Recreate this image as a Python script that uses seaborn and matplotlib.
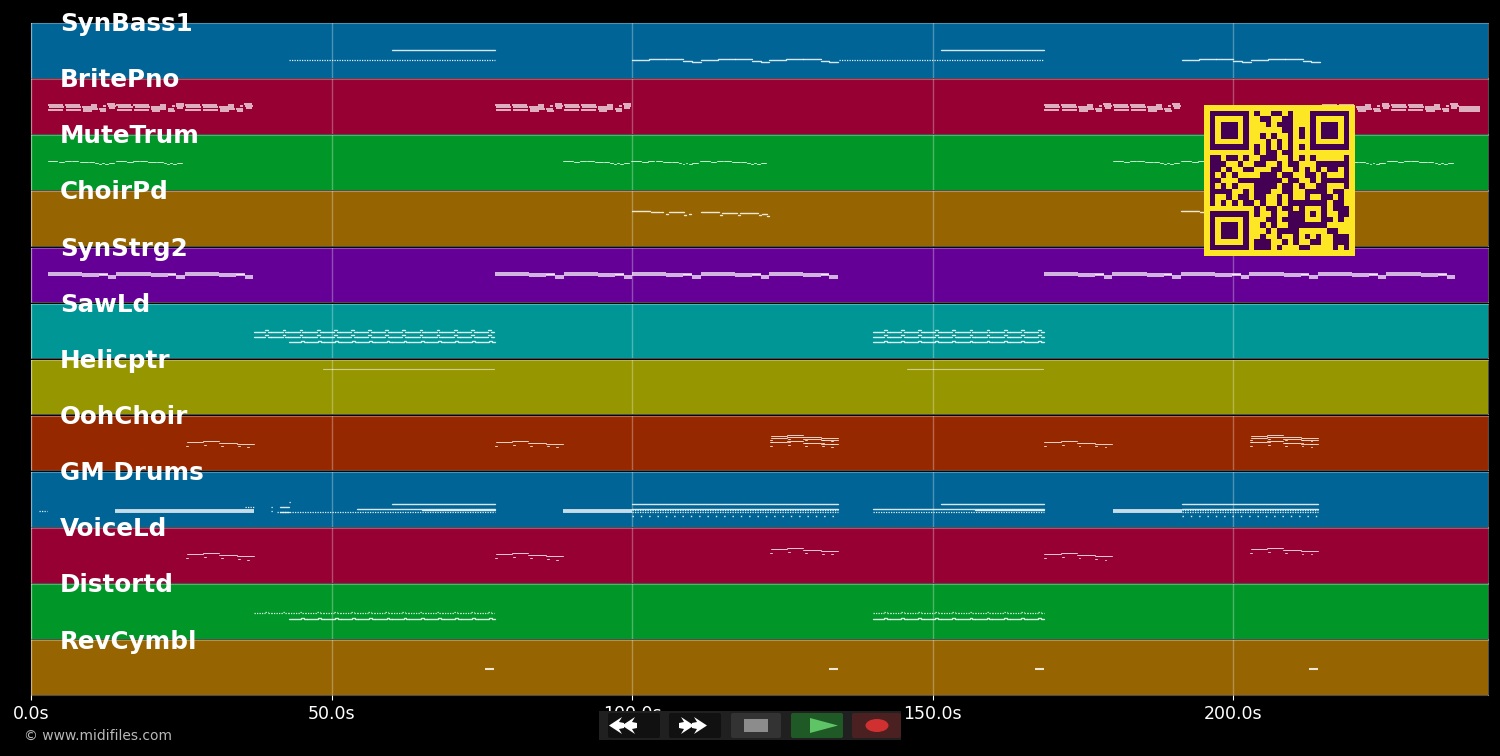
# Piano roll of a midi file, one band per instrument
import numpy as np
import pandas as pd
import seaborn as sns
import matplotlib.pyplot as plt
from matplotlib.patches import Rectangle, Polygon, Ellipse, FancyBboxPatch

track_names = ['SynBass1', 'BritePno', 'MuteTrum', 'ChoirPd', 'SynStrg2', 'SawLd',
               'Helicptr', 'OohChoir', 'GM Drums', 'VoiceLd', 'Distortd', 'RevCymbl']
band_colors = ['#006496', '#960032', '#009628', '#966400', '#640096', '#009696',
               '#969600', '#962800', '#006496', '#960032', '#009628', '#966400']
tick_seconds = [0, 50, 100, 150, 200]
song_end = 242.4

# phrases: (offset, duration, pitch) inside one phrase
bass_wave = [(0, 2.85, 40), (2.85, 2.85, 44), (5.7, 2.85, 42), (8.55, 1.45, 38), (10, 1.4, 36)]
brite_bar = [(0, 2.5, 66), (0.2, 2.5, 61), (0.1, 2.5, 56), (2.85, 2.5, 66), (3.05, 2.5, 61), (2.95, 2.5, 56),
             (5.7, 2.5, 63), (5.8, 2.5, 58), (5.9, 1.4, 53), (7.2, 1.0, 66),
             (8.55, 1.1, 58), (8.65, 1.1, 53), (9.2, 0.5, 64), (9.9, 1.3, 70), (10, 1.3, 65), (10.1, 1.0, 59)]
mute_line = [(0, 1.6, 66), (1.8, 0.9, 64), (2.8, 1.0, 67), (4, 1.1, 66), (5.3, 1.3, 65), (6.8, 0.9, 64),
             (7.9, 0.4, 62), (8.5, 0.3, 60), (9, 0.3, 63), (9.5, 0.5, 60), (10.1, 0.9, 63)]
choir_line = [(0, 3, 81), (3.1, 1.6, 80), (4.8, 0.4, 78), (5.7, 0.3, 74), (6.2, 2.5, 78), (8.7, 0.3, 72),
              (9.5, 0.3, 74), (11.4, 3, 78), (14.6, 0.3, 73), (14.9, 2.6, 77), (17.7, 0.3, 71), (18, 3, 76),
              (21.2, 0.3, 72), (21.6, 0.9, 74), (22.5, 0.3, 70)]
strings_bar = [(0, 5.7, 67), (0, 5.7, 63), (5.7, 2.85, 65), (5.7, 2.85, 61),
               (8.55, 1.45, 66), (8.55, 1.45, 62), (10, 1.4, 61), (10, 1.4, 57)]
saw_bar = [(0, 1.9, 0), (1.9, 0.45, 3), (2.35, 0.5, 0), (2.85, 1.9, 0), (4.75, 0.45, 3), (5.2, 0.5, 0)]
ooh_line = [(0, 0.3, 58), (0.1, 2.7, 67), (2.8, 2.7, 69), (3.0, 0.3, 59), (5.5, 3, 65), (5.8, 0.3, 57),
            (8.5, 2.8, 62), (8.6, 0.3, 56), (10.1, 0.3, 54)]

# phrase start times, seconds
bass_starts = [100, 111.4, 122.8, 191.5, 203]
brite_starts = [2.8, 14.2, 25.6, 77.2, 88.6, 168.5, 180, 214.8, 226.2]
mute_starts = [2.8, 14.2, 88.5, 99.9, 111.3, 180, 191.4, 202.8, 214.2, 225.6]
choir_starts = [100, 191.4]
strings_starts = [2.8, 14.2, 25.6, 77.2, 88.6, 100, 111.4, 122.8, 168.5, 179.9, 191.3, 202.7, 214.1, 225.5]
saw_starts_a = [37.1, 42.8, 48.5, 54.2, 59.9, 65.6, 71.3, 140, 145.7, 151.4, 157.1, 162.8]
saw_starts_b = [43, 48.7, 54.4, 60.1, 65.8, 71.5, 140, 145.7, 151.4, 157.1, 162.8]
ooh_starts = [25.8, 77.2, 168.5]
ooh_high_starts = [123, 202.8]

# held notes and runs: (start, end, pitch)
bass_held = [(60, 77.2, 63), (151.4, 168.6, 63)]
bass_runs = [(43, 77.2, 40), (134.4, 168.6, 40)]
brite_held = [(237.6, 241, 62), (237.6, 241, 57), (237.6, 241, 52)]
heli_held = [(48.6, 77, 105), (145.8, 168.4, 105)]
cymbal_held = [(75.5, 77, 60), (132.7, 134.3, 60), (167, 168.5, 60), (212.7, 214.1, 60)]
drum_held = [(60, 77.2, 52), (100, 134.3, 52), (151.4, 168.6, 52), (191.5, 214.1, 52),
             (41.4, 43, 46), (41.4, 43, 35), (54.2, 77.2, 42), (65, 77.2, 38),
             (100, 134.3, 42), (140, 168.6, 42), (157, 168.6, 38), (191.5, 214.1, 42)]
drum_thick = [(14, 37.1, 37), (88.5, 100, 37), (180, 191.5, 37)]
drum_runs = [(41, 77.2, 35), (100, 134.3, 35), (140, 168.6, 35), (191.5, 214.1, 35),
             (100, 134.3, 38), (191.5, 214.1, 38),
             (1.3, 2.7, 37), (35.6, 37.1, 46), (40, 40.3, 46), (40, 40.3, 36), (43, 43.3, 58)]
drum_sparse = [(100, 134.3, 25), (191.5, 214.1, 25)]

qr_rows = [
    '1111111010011010001111111', '1000001001100110001000001', '1011101000101110001011101',
    '1011101000000110101011101', '1011101001010010101011101', '1000001000101010001000001',
    '1111111010101010101111111', '0000000010110110000000000', '1101101001110010101000001',
    '1110010011001011000111111', '1101001100011001010101101', '1010100001110110011010001',
    '1100011111111011001011111', '1010100011110110100110001', '1111001011100110011110110',
    '1001011011001010010011010', '1010101101001011111110110', '0000000010110110100010111',
    '1111111010010011101010011', '1000001000110111100011010', '1011101001010011111110000',
    '1011101000101111000001100', '1011101001001001010100111', '1000001011100101001100111',
    '1111111011101000110000101',
]

sns.set_theme(style='dark', rc={'figure.facecolor': 'black', 'axes.facecolor': 'black',
                                'savefig.facecolor': 'black', 'text.color': 'white',
                                'xtick.color': 'white', 'font.family': 'DejaVu Sans'})

# line look for each kind of note
kinds = {'thin': dict(linewidth=0.7, alpha=0.8),
         'solid': dict(linewidth=1.0, alpha=0.85),
         'chord': dict(linewidth=1.1, alpha=0.9, solid_capstyle='butt'),
         'pad': dict(linewidth=1.2, alpha=0.85, solid_capstyle='butt'),
         'thick': dict(linewidth=1.5, alpha=0.85, solid_capstyle='butt'),
         'block': dict(linewidth=2.8, alpha=0.78, solid_capstyle='butt'),
         'dots': dict(linewidth=0.9, alpha=0.9, linestyle=(0, (1, 1))),
         'sparse': dict(linewidth=1.0, alpha=0.9, linestyle=(0, (1, 5))),
         'pale': dict(linewidth=0.8, alpha=0.55)}

rows = []


def add_spans(track, kind, spans):
    for start, end, pitch in spans:
        note = len(rows)
        rows.append((track, kind, note, start, pitch))
        rows.append((track, kind, note, end, pitch))


def add_phrases(track, kind, phrase, starts, shift=0):
    add_spans(track, kind, [(s + off, s + off + dur, pitch + shift)
                            for s in starts for off, dur, pitch in phrase])


add_spans(0, 'solid', bass_held)
add_spans(0, 'dots', bass_runs)
add_phrases(0, 'solid', bass_wave, bass_starts)
add_phrases(1, 'chord', brite_bar, brite_starts)
add_spans(1, 'chord', brite_held)
add_phrases(2, 'thin', mute_line, mute_starts)
add_phrases(3, 'solid', choir_line, choir_starts)
add_phrases(4, 'pad', strings_bar, strings_starts)
for pitch in [62, 50]:
    add_phrases(5, 'solid', saw_bar, saw_starts_a, pitch)
add_phrases(5, 'solid', saw_bar, saw_starts_b, 38)
add_spans(6, 'pale', heli_held)
add_phrases(7, 'thin', ooh_line, ooh_starts)
for shift in [14, 8, 0]:
    add_phrases(7, 'thin', ooh_line, ooh_high_starts, shift)
add_spans(8, 'solid', drum_held)
add_spans(8, 'block', drum_thick)
add_spans(8, 'dots', drum_runs)
add_spans(8, 'sparse', drum_sparse)
add_phrases(9, 'thin', ooh_line, ooh_starts)
add_phrases(9, 'thin', ooh_line, ooh_high_starts, 12)
add_phrases(10, 'dots', saw_bar, saw_starts_a, 60)
add_phrases(10, 'solid', saw_bar, saw_starts_b, 46)
add_spans(11, 'thick', cymbal_held)

df = pd.DataFrame(rows, columns=['track', 'kind', 'note', 'time', 'pitch'])

fig, axes = plt.subplots(12, 1, figsize=(15, 7.56), dpi=100, sharex=True)
fig.subplots_adjust(left=31 / 1500, right=1488 / 1500, top=1 - 23 / 756, bottom=1 - 695 / 756, hspace=0.03)

for i, ax in enumerate(axes):
    ax.set_facecolor(band_colors[i])
    part = df[df['track'] == i]
    for kind, group in part.groupby('kind'):
        sns.lineplot(data=group, x='time', y='pitch', units='note', estimator=None,
                     color='white', legend=False, ax=ax, **kinds[kind])
    ax.set_ylim(0, 127)
    ax.set_yticks([])
    ax.set_xlabel('')
    ax.set_ylabel('')
    ax.grid(axis='x', color='white', alpha=0.3, linewidth=1)
    for spine in ax.spines.values():
        spine.set_color((1, 1, 1, 0.3))
        spine.set_linewidth(0.8)
    ax.text(0.0200, 0.98, track_names[i], transform=ax.transAxes, ha='left', va='center',
            color='white', fontsize=17.7, fontweight='bold', clip_on=False)

axes[-1].set_xlim(0, song_end)
axes[-1].set_xticks(tick_seconds)
axes[-1].set_xticklabels([f'{t:.1f}s' for t in tick_seconds], fontsize=12.5, color='white')
axes[-1].tick_params(axis='x', bottom=True, color='white', length=3.5, width=0.8, labelcolor='white')

# qr code on top of the roll
qr = np.pad(np.array([[int(c) for c in r] for r in qr_rows]), 1)
qr_ax = fig.add_axes([1204 / 1500, 1 - 256 / 756, 151 / 1500, 151 / 756], zorder=20)
sns.heatmap(qr, cmap='viridis_r', vmin=0, vmax=1, cbar=False, square=False,
            xticklabels=False, yticklabels=False, ax=qr_ax)

# player controls, in pixel positions
ui = fig.add_axes([0, 0, 1, 1], zorder=10)
ui.set_xlim(0, 1500)
ui.set_ylim(756, 0)
ui.axis('off')
ui.patch.set_alpha(0)


def button(x0, x1, color):
    ui.add_patch(FancyBboxPatch((x0 + 2, 715), x1 - x0 - 4, 21, boxstyle='round,pad=2', fc=color, ec='none'))


ui.add_patch(Rectangle((599, 711), 302, 29, fc='#202020', ec='none'))
button(608, 660, '#111111')
button(669, 721, '#111111')
button(731, 781, '#333333')
button(791, 843, '#1f5a26')
button(852, 901, '#4a2020')
for tip, d in [(609, 1), (622, 1), (707, -1), (694, -1)]:
    ui.add_patch(Polygon([(tip, 725.5), (tip + 13 * d, 717), (tip + 10 * d, 722), (tip + 15 * d, 723),
                          (tip + 15 * d, 728), (tip + 10 * d, 729), (tip + 13 * d, 734)], fc='white', ec='none'))
ui.add_patch(Rectangle((744, 719), 24, 13, fc='#8c8c8c', ec='none'))
ui.add_patch(Polygon([(810, 718), (810, 733), (838, 725.5)], fc='#5fc465', ec='none'))
ui.add_patch(Ellipse((877, 725.5), 23, 13, fc='#d03030', ec='none'))

ui.text(24, 736, '© www.midifiles.com', color='#b8b8b8', fontsize=10, ha='left', va='center')

fig.savefig('out.png', dpi=100, facecolor='black')
